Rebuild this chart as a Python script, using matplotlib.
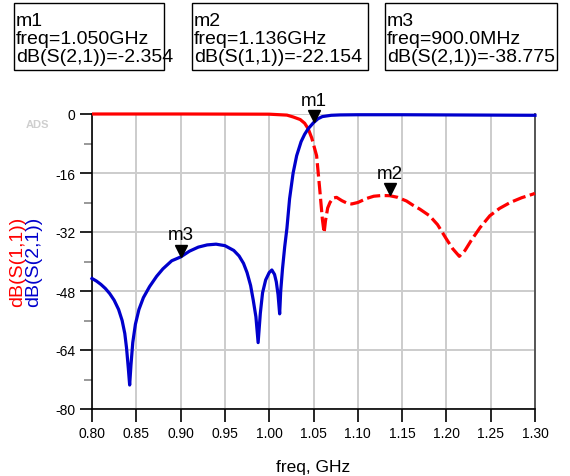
import matplotlib
matplotlib.use("Agg")
import matplotlib.pyplot as plt
from matplotlib.transforms import offset_copy
from matplotlib.ticker import MultipleLocator

plt.rcParams['font.family'] = ['Liberation Sans', 'DejaVu Sans']

# S(2,1) trace (blue)
freq_s21 = [0.800, 0.805, 0.810, 0.815, 0.820, 0.825, 0.830, 0.834, 0.837, 0.839,
            0.841, 0.8425, 0.844, 0.846, 0.849, 0.853, 0.858, 0.865, 0.873, 0.880,
            0.890, 0.900, 0.910, 0.920, 0.930, 0.940, 0.950, 0.960, 0.966, 0.971,
            0.975, 0.979, 0.982, 0.985, 0.9875, 0.990, 0.9925, 0.996, 1.000, 1.003,
            1.006, 1.008, 1.010, 1.0118, 1.013, 1.015, 1.0175, 1.020, 1.023, 1.027,
            1.031, 1.036, 1.040, 1.044, 1.050, 1.055, 1.060, 1.070, 1.080, 1.100,
            1.150, 1.200, 1.250, 1.300]
db_s21 = [-44.6, -45.3, -46.2, -47.3, -48.7, -50.5, -53.0, -56.0, -59.5, -63.5,
          -69.0, -73.5, -68.0, -62.0, -57.0, -53.0, -49.8, -46.8, -44.0, -42.0,
          -39.8, -38.775, -37.2, -36.1, -35.5, -35.3, -35.7, -37.0, -38.5, -40.5,
          -43.0, -46.5, -50.5, -55.0, -62.0, -54.0, -48.5, -45.0, -43.0, -42.3,
          -43.5, -45.5, -49.0, -54.2, -48.0, -42.0, -36.0, -31.0, -23.0, -16.0,
          -11.3, -7.5, -5.5, -4.0, -2.354, -1.3, -0.7, -0.35, -0.25, -0.2,
          -0.2, -0.25, -0.3, -0.35]

# S(1,1) trace (red)
freq_s11 = [0.800, 0.900, 1.000, 1.020, 1.027, 1.035, 1.040, 1.044, 1.048, 1.0535,
            1.057, 1.060, 1.062, 1.0635, 1.066, 1.0686, 1.072, 1.076, 1.082, 1.088,
            1.093, 1.100, 1.110, 1.118, 1.127, 1.136, 1.145, 1.155, 1.162, 1.170,
            1.181, 1.190, 1.200, 1.207, 1.2146, 1.221, 1.228, 1.238, 1.249, 1.260,
            1.272, 1.285, 1.298, 1.300]
db_s11 = [0.0, 0.0, -0.05, -0.3, -0.8, -1.5, -2.5, -4.0, -6.5, -11.3,
          -20.3, -28.5, -32.2, -29.0, -25.5, -24.0, -22.8, -22.6, -23.5, -24.2,
          -24.4, -24.0, -22.9, -22.3, -22.1, -22.154, -22.6, -23.6, -24.7, -25.8,
          -27.6, -30.0, -33.9, -36.5, -38.6, -37.0, -34.3, -30.8, -27.6, -25.6,
          -24.0, -22.7, -21.7, -21.5]

x_ticks = [0.80, 0.85, 0.90, 0.95, 1.00, 1.05, 1.10, 1.15, 1.20, 1.25, 1.30]
y_ticks = [0, -16, -32, -48, -64, -80]

markers = [("m1", 1.050, -2.354), ("m2", 1.136, -22.154), ("m3", 0.900, -38.775)]
marker_boxes = [["m1", "freq=1.050GHz", "dB(S(2,1))=-2.354"],
                ["m2", "freq=1.136GHz", "dB(S(1,1))=-22.154"],
                ["m3", "freq=900.0MHz", "dB(S(2,1))=-38.775"]]

RED = "#ff0000"
BLUE = "#0000cc"

fig = plt.figure(figsize=(5.70, 4.77), dpi=100)
ax = fig.add_axes([92/570, 1-410/477, (535-92)/570, (410-115)/477])

# red: solid on the flat part, dashed afterwards
split = 7
ax.plot(freq_s11[:split+1], db_s11[:split+1], color=RED, lw=2.3,
        solid_capstyle='butt', zorder=3, clip_on=False)
ax.plot(freq_s11[split:], db_s11[split:], color=RED, lw=2.3,
        linestyle=(0, (4.2, 1.4)), zorder=3, clip_on=False)
ax.plot(freq_s21, db_s21, color=BLUE, lw=2.3, zorder=4, clip_on=False)

ax.set_xlim(0.80, 1.30)
ax.set_ylim(-80, 0)
ax.set_xticks(x_ticks)
ax.set_xticklabels([f"{t:.2f}" for t in x_ticks])
ax.set_yticks(y_ticks)
ax.set_yticklabels([str(t) for t in y_ticks])
ax.yaxis.set_minor_locator(MultipleLocator(8))
ax.grid(True, which='major', color='#cccccc', lw=1.4, zorder=0)
ax.set_axisbelow(True)

ax.tick_params(axis='both', which='major', direction='out', length=9, width=1.2,
               color='black', labelsize=10, pad=3)
ax.tick_params(axis='y', which='minor', direction='out', length=5.5, width=1.2,
               color='#888888')
ax.spines['top'].set_visible(False)
ax.spines['right'].set_color('#555555')
ax.spines['right'].set_linewidth(1.4)
ax.spines['left'].set_linewidth(1.2)
ax.spines['bottom'].set_linewidth(1.2)

# markers
for name, f, v in markers:
    tr = offset_copy(ax.transData, fig=fig, x=0, y=4.5, units='points')
    ax.plot([f], [v], marker='v', color='black', markersize=9, transform=tr,
            zorder=6, clip_on=False)
    tr2 = offset_copy(ax.transData, fig=fig, x=0, y=10, units='points')
    ax.text(f, v, name, transform=tr2, ha='center', va='bottom', fontsize=13.5,
            zorder=6)

ax.set_xlabel("freq, GHz", fontsize=12.5, labelpad=14)

fig.text(18/570, 1-262/477, "dB(S(1,1))", color=RED, rotation=90, ha='center',
         va='center', fontsize=14)
fig.text(34/570, 1-262/477, "dB(S(2,1))", color=BLUE, rotation=90, ha='center',
         va='center', fontsize=14)
fig.text(37/570, 1-125/477, "ADS", color='#cfcfcf', fontsize=8, fontweight='bold',
         ha='center', va='center')

# marker readout boxes
box_x = [(14, 164), (192, 368), (385, 557)]
for (x0, x1), lines in zip(box_x, marker_boxes):
    y0, y1 = 4, 71
    rect = plt.Rectangle((x0/570, 1-y1/477), (x1-x0)/570, (y1-y0)/477,
                         transform=fig.transFigure, fill=False, edgecolor='black',
                         lw=1.0)
    fig.add_artist(rect)
    fig.text((x0+2)/570, 1-(y0+9)/477, "\n".join(lines), ha='left', va='top',
             fontsize=14, linespacing=1.06)

fig.savefig("out.png", dpi=100)
